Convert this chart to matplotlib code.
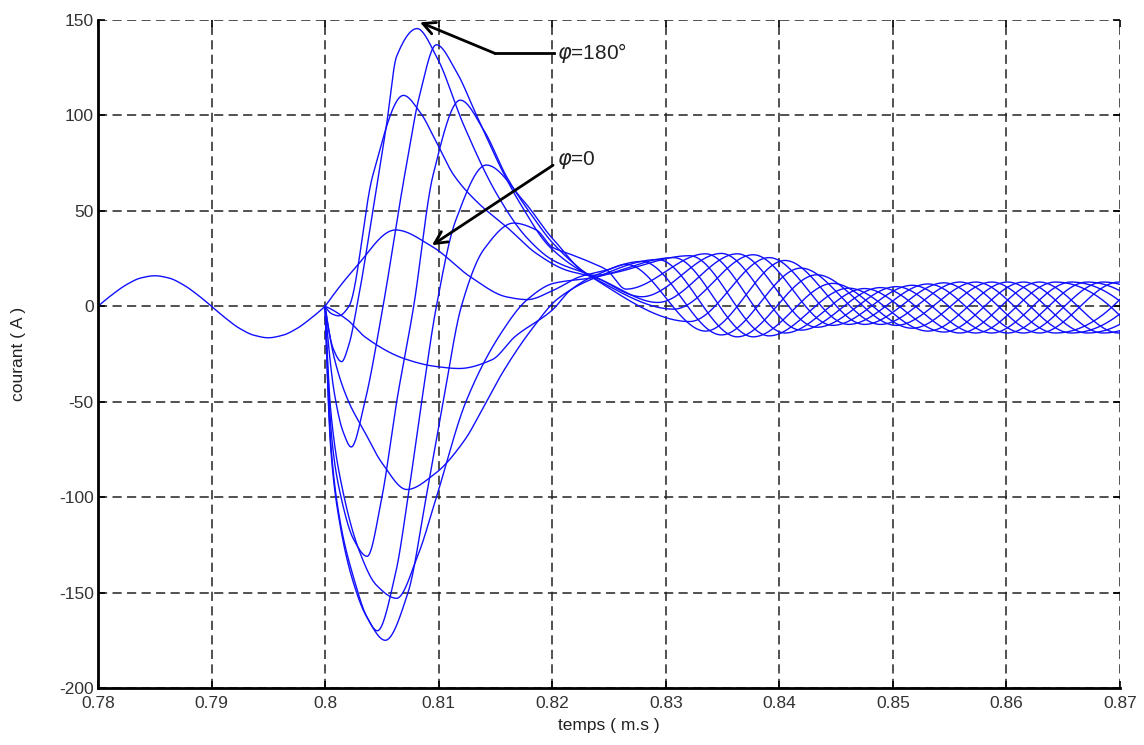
import numpy as np
import matplotlib
matplotlib.use("Agg")
import matplotlib.pyplot as plt

# ---------------- data ----------------
x_ticks = [0.78, 0.79, 0.80, 0.81, 0.82, 0.83, 0.84, 0.85, 0.86, 0.87]
x_tick_labels = ["0.78", "0.79", "0.8", "0.81", "0.82", "0.83", "0.84", "0.85", "0.86", "0.87"]
y_ticks = [-200, -150, -100, -50, 0, 50, 100, 150]
y_tick_labels = ["-200", "-150", "-100", "-50", "0", "50", "100", "150"]

# common pre-switching current
t_pre = [0.78, 0.78125, 0.7825, 0.78375, 0.785, 0.78625, 0.7875, 0.78875, 0.79,
         0.79125, 0.7925, 0.79375, 0.795, 0.79625, 0.7975, 0.79875, 0.80]
i_pre = [0, 6.1, 11.3, 14.8, 16, 14.8, 11.3, 6.1, 0,
         -6.3, -11.7, -15.2, -16.5, -15.2, -11.7, -6.3, 0]

# phi = 0 curve
c0_t = [0.800, 0.8025, 0.8062, 0.8095, 0.8128, 0.8160, 0.8178, 0.8201, 0.8224, 0.8248,
        0.8265, 0.8335, 0.8405, 0.8475, 0.8545, 0.8615, 0.8685, 0.8755]
c0_i = [0, 19, 40, 31, 15.4, 4.9, 3.5, 8.4, 15.4, 19,
        22, -13, 24, -9.5, 12.3, -14, 12.7, -14]

c1_t = [0.800, 0.8006, 0.8012, 0.8021, 0.8042, 0.8069, 0.80835, 0.8098, 0.8113, 0.8135,
        0.8160, 0.8186, 0.8212, 0.8236,
        0.8293, 0.8363, 0.8433, 0.8503, 0.8573, 0.8643, 0.8713]
c1_i = [0, -4, -5, 0, 68.6, 110.5, 101.8, 86, 69, 54,
        41.5, 27.7, 19, 15.4,
        2, 27.5, -11, 10.3, -14, 12.7, -14]

# phi = 180 deg curve
c2_t = [0.800, 0.8007, 0.80145, 0.8021, 0.8028, 0.8047, 0.8054, 0.8063, 0.8081, 0.8098,
        0.8122, 0.8151, 0.81775, 0.8201, 0.8236,
        0.8279, 0.8349, 0.8419, 0.8489, 0.8559, 0.8629, 0.8699, 0.8769]
c2_i = [0, -22, -29, -20, 0, 68.6, 94.8, 131, 145.5, 131,
        95, 59, 36, 24, 15.9,
        5, 27.7, -12.5, 9.8, -14, 12.7, -14, 12.7]

c3_t = [0.800, 0.8008, 0.8016, 0.8023, 0.8035, 0.8051, 0.8070, 0.8083, 0.8098, 0.81158,
        0.81334, 0.81569, 0.81716, 0.8198, 0.8236,
        0.8307, 0.8377, 0.8447, 0.8517, 0.8587, 0.8657, 0.8727]
c3_i = [0, -45, -66, -73.7, -50, 0, 68.6, 110, 137, 122.7,
        100, 70, 54, 31, 15,
        -1.5, 27, -10, 11, -14, 12.7, -14]

c4_t = [0.800, 0.8006, 0.8014, 0.8025, 0.8037, 0.8050, 0.8063, 0.8078, 0.8095, 0.8119,
        0.8140, 0.8160, 0.8183, 0.8201, 0.8236,
        0.8321, 0.8391, 0.8461, 0.8531, 0.8601, 0.8671, 0.8741]
c4_i = [0, -70, -100, -122, -131, -100, -50, 0, 68.6, 108,
        92, 67.7, 46.8, 32.8, 14.8,
        -8, 25.5, -9.5, 11.7, -14, 12.7, -14]

c5_t = [0.800, 0.8005, 0.8013, 0.8025, 0.8036, 0.8046, 0.8062, 0.8073, 0.8085, 0.8098,
        0.8115, 0.8142, 0.8175, 0.8201, 0.8236,
        0.8321, 0.8391, 0.8461, 0.8531, 0.8601, 0.8671, 0.8741]
c5_i = [0, -75, -114, -145, -162, -170, -140, -100, -50, 0,
        45, 74, 55, 35, 16.3,
        26.5, -15.5, 9.5, -13, 12.7, -14, 12.7]

c6_t = [0.800, 0.8005, 0.8013, 0.8025, 0.8037, 0.8053, 0.8073, 0.8089, 0.8104, 0.8120,
        0.8140, 0.8166, 0.8186, 0.8200, 0.8215, 0.8230, 0.8248,
        0.8265, 0.8335, 0.8405, 0.8475, 0.8545, 0.8615, 0.8685, 0.8755]
c6_i = [0, -72, -112, -142, -163, -175, -150, -100, -50, 0,
        30, 43.6, 40, 31, 27.5, 24, 19,
        9, 27.5, -14, 9.3, -13.5, 12.7, -14, 12.7]

c7_t = [0.800, 0.8005, 0.8015, 0.8030, 0.8045, 0.8063, 0.8082, 0.8098, 0.8124, 0.8155,
        0.8178, 0.8201, 0.8236,
        0.8307, 0.8377, 0.8447, 0.8517, 0.8587, 0.8657, 0.8727]
c7_i = [0, -55, -95, -128, -146, -153, -130, -100, -50, -14,
        3.5, 12, 15,
        25.5, -16, 12, -11.5, 12.7, -14, 12.7]

c8_t = [0.800, 0.8008, 0.8020, 0.8035, 0.8050, 0.8072, 0.8097, 0.8123, 0.8138, 0.8156,
        0.8182, 0.8205, 0.8236,
        0.8293, 0.8363, 0.8433, 0.8503, 0.8573, 0.8643, 0.8713]
c8_i = [0, -27, -49, -66, -82, -96, -87.6, -70, -54.5, -35,
        -12, 4, 14.5,
        24.5, -16, 16.5, -10, 12.7, -14, 12.7]

c9_t = [0.800, 0.8020, 0.8035, 0.8070, 0.8097, 0.8118, 0.8147, 0.8167, 0.8200, 0.8216,
        0.8236,
        0.8279, 0.8349, 0.8419, 0.8489, 0.8559, 0.8629, 0.8699, 0.8769]
c9_i = [0, -7.3, -16, -27.5, -31.5, -32.6, -28, -16, -2, 8.4,
        15.7,
        23.5, -15, 20, -9.5, 12.7, -14, 12.7, -14]

curves = [(c0_t, c0_i), (c1_t, c1_i), (c2_t, c2_i), (c3_t, c3_i), (c4_t, c4_i),
          (c5_t, c5_i), (c6_t, c6_i), (c7_t, c7_i), (c8_t, c8_i), (c9_t, c9_i)]


# ---------------- smooth (shape-preserving) line drawing ----------------
def pchip_line(x, y, n=3000):
    x = np.asarray(x, float)
    y = np.asarray(y, float)
    h = np.diff(x)
    delta = np.diff(y) / h
    m = len(x)
    d = np.zeros(m)
    for k in range(1, m - 1):
        if delta[k - 1] * delta[k] > 0:
            w1 = 2 * h[k] + h[k - 1]
            w2 = h[k] + 2 * h[k - 1]
            d[k] = (w1 + w2) / (w1 / delta[k - 1] + w2 / delta[k])

    def end_slope(h0, h1, d0, d1):
        s = ((2 * h0 + h1) * d0 - h0 * d1) / (h0 + h1)
        if np.sign(s) != np.sign(d0):
            s = 0.0
        elif np.sign(d0) != np.sign(d1) and abs(s) > abs(3 * d0):
            s = 3 * d0
        return s

    if m > 2:
        d[0] = end_slope(h[0], h[1], delta[0], delta[1])
        d[-1] = end_slope(h[-1], h[-2], delta[-1], delta[-2])
    else:
        d[:] = delta[0]
    xn = np.linspace(x[0], x[-1], n)
    idx = np.clip(np.searchsorted(x, xn) - 1, 0, m - 2)
    t = (xn - x[idx]) / h[idx]
    h00 = 2 * t**3 - 3 * t**2 + 1
    h10 = t**3 - 2 * t**2 + t
    h01 = -2 * t**3 + 3 * t**2
    h11 = t**3 - t**2
    yn = h00 * y[idx] + h10 * h[idx] * d[idx] + h01 * y[idx + 1] + h11 * h[idx] * d[idx + 1]
    return xn, yn


plt.rcParams['font.family'] = ['Liberation Sans', 'DejaVu Sans']

fig = plt.figure(figsize=(11.44, 7.45), dpi=100)
ax = fig.add_axes([98 / 1144, 1 - 688 / 745, (1120 - 98) / 1144, (688 - 20) / 745])

line_color = '#1010ff'
xs, ys = pchip_line(t_pre, i_pre)
ax.plot(xs, ys, color=line_color, lw=1.0)
for ct, ci in curves:
    xs, ys = pchip_line(ct, ci)
    ax.plot(xs, ys, color=line_color, lw=1.0)

ax.set_xlim(0.78, 0.87)
ax.set_ylim(-200, 150)
ax.set_xticks(x_ticks)
ax.set_xticklabels(x_tick_labels)
ax.set_yticks(y_ticks)
ax.set_yticklabels(y_tick_labels)

ax.grid(True, color='#222222', linestyle=(0, (6, 3.5)), linewidth=1.1)
ax.set_axisbelow(True)
for s in ['top', 'right']:
    ax.spines[s].set_visible(False)
for s in ['left', 'bottom']:
    ax.spines[s].set_linewidth(2.0)
    ax.spines[s].set_color('black')
ax.tick_params(direction='in', length=5, width=1.2, top=True, right=True,
               labelsize=12.5, labelcolor='#333333')
ax.tick_params(axis='x', pad=6)
ax.tick_params(axis='y', pad=3)

ax.set_xlabel('temps ( m.s )', fontsize=12.5, color='#222222', labelpad=5)
ax.set_ylabel('courant ( A )', fontsize=12.5, color='#222222', labelpad=24)

# annotations
ax.plot([0.8202, 0.81496], [132.5, 132.5], color='black', lw=2)
ax.annotate('', xy=(0.80835, 148.8), xytext=(0.81496, 132.5),
            arrowprops=dict(arrowstyle='->', lw=2, color='black', mutation_scale=22,
                            shrinkA=0, shrinkB=0))
ax.text(0.8204, 132.5, r'$\varphi$=180°', fontsize=15, va='center', ha='left', color='#222222')
ax.annotate('', xy=(0.80941, 32), xytext=(0.82007, 73.9),
            arrowprops=dict(arrowstyle='->', lw=2, color='black', mutation_scale=22,
                            shrinkA=0, shrinkB=0))
ax.text(0.8204, 76.5, r'$\varphi$=0', fontsize=15, va='center', ha='left', color='#222222')

fig.savefig('out.png', dpi=100)
